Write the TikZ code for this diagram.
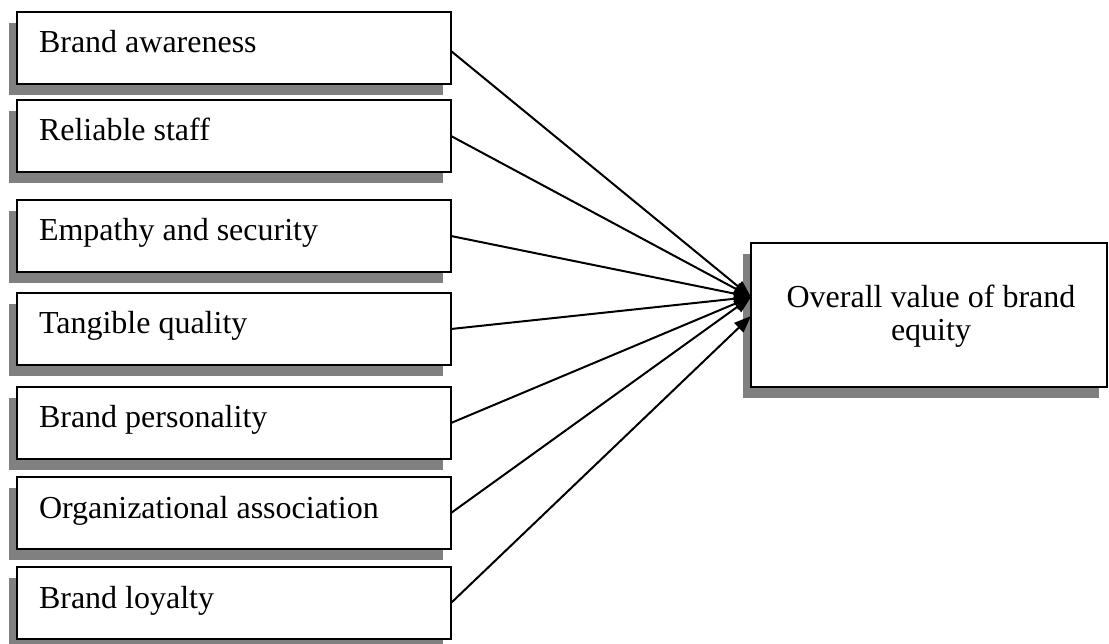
\documentclass[tikz,border=0pt]{standalone}
\usepackage{fontspec}
\setmainfont{Liberation Serif}
\usetikzlibrary{arrows.meta,calc,shadows}
\definecolor{shadowgray}{HTML}{808080}
\begin{document}
\begin{tikzpicture}[x=1pt,y=-1pt,
  box/.style={draw=black, line width=2pt, fill=white, rectangle, inner sep=0pt, outer sep=0pt,
    anchor=north west,
    drop shadow={shadow xshift=-8pt, shadow yshift=-11pt, fill=shadowgray, opacity=1}},
  srcbox/.style={box, minimum width=434pt, minimum height=72pt},
  lbl/.style={inner sep=0pt, outer sep=0pt, font=\fontsize{32}{35}\selectfont},
  link/.style={line width=2pt, -{Triangle[length=17pt,width=13pt]}}]
\useasboundingbox (0,0) rectangle (1109,644);

% factor boxes on the left
\node[srcbox] (b1) at (17,12)  {};
\node[srcbox] (b2) at (17,100) {};
\node[srcbox] (b3) at (17,200) {};
\node[srcbox] (b4) at (17,293) {};
\node[srcbox] (b5) at (17,387) {};
\node[srcbox] (b6) at (17,477) {};
\node[srcbox] (b7) at (17,567) {};

\node[lbl, anchor=base west] (t1) at ($(b1.north west)+(22,41)$) {Brand awareness};
\node[lbl, anchor=base west] (t2) at ($(b2.north west)+(22,41)$) {Reliable staff};
\node[lbl, anchor=base west] (t3) at ($(b3.north west)+(22,41)$) {Empathy and security};
\node[lbl, anchor=base west] (t4) at ($(b4.north west)+(22,41)$) {Tangible quality};
\node[lbl, anchor=base west] (t5) at ($(b5.north west)+(22,41)$) {Brand personality};
\node[lbl, anchor=base west] (t6) at ($(b6.north west)+(22,41)$) {Organizational association};
\node[lbl, anchor=base west] (t7) at ($(b7.north west)+(22,41)$) {Brand loyalty};

% outcome box on the right
\node[box, minimum width=356pt, minimum height=144pt] (r) at (751,243) {};
\node[lbl, anchor=base] (r1) at ($(r.north)+(2,65)$) {Overall value of brand};
\node[lbl, anchor=base] (r2) at ($(r.north)+(2,98)$) {equity};

\coordinate (hub)  at ($(r.west)+(0,-18)$);
\coordinate (hub2) at ($(r.west)+(0,1)$);

% arrows
\draw[link] ($(b1.east)+(0,3)$) -- (hub);
\draw[link] (b2.east) -- (hub);
\draw[link] (b3.east) -- (hub);
\draw[link] (b4.east) -- (hub);
\draw[link] (b5.east) -- (hub);
\draw[link] (b6.east) -- (hub);
\draw[link] (b7.east) -- (hub2);
\end{tikzpicture}
\end{document}
